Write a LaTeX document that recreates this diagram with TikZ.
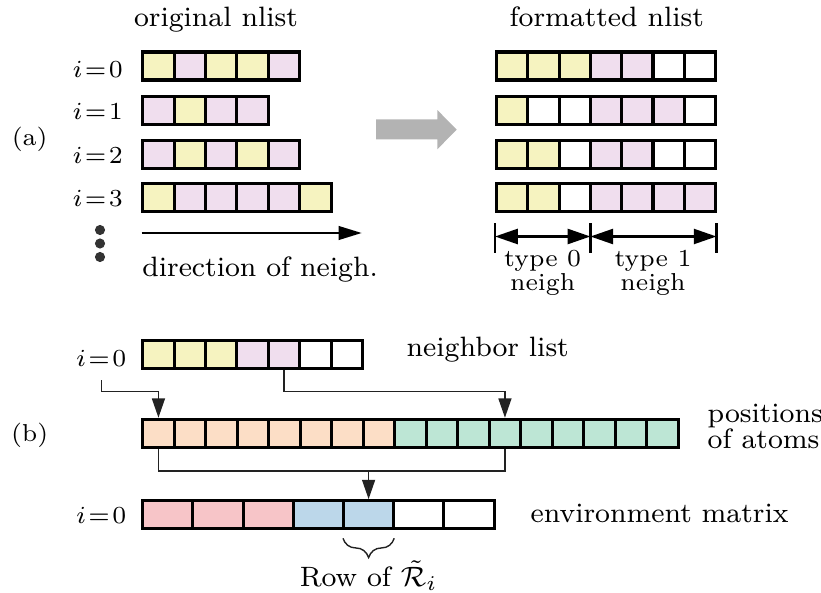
\documentclass[tikz,border=0pt]{standalone}
\usetikzlibrary{arrows.meta,decorations.pathreplacing,calc}
\definecolor{cY}{HTML}{F6F3C0}
\definecolor{cP}{HTML}{F0DEEE}
\definecolor{cW}{HTML}{FFFFFF}
\definecolor{cO}{HTML}{FCDEC6}
\definecolor{cG}{HTML}{BDE6D5}
\definecolor{cR}{HTML}{F7C5C8}
\definecolor{cB}{HTML}{BCD7EA}
\definecolor{garrowc}{HTML}{B3B3B3}
\definecolor{conncol}{HTML}{222222}
\newcommand\cellrowX[6]{%
  \foreach \c [count=\k from 0] in {#6}
    \node[cell,fill=c\c,minimum width=#5] (#1\k) at ({#2+(\k+0.5)*#3},#4) {};
}
\tikzset{
  cell/.style={draw=black,line width=0.9pt,minimum height=8pt,inner sep=0pt},
  txt/.style={font=\fontsize{8}{9.6}\selectfont,inner sep=0pt},
  lab/.style={font=\fontsize{7}{8.4}\selectfont,inner sep=0pt},
  smalltxt/.style={font=\fontsize{7}{8.4}\selectfont,inner sep=0pt},
  conn/.style={draw=conncol,line width=0.4pt},
  ctip/.style={-{Triangle[length=5.5pt,width=3.7pt]}},
  dimline/.style={draw=black,line width=0.65pt},
  dot/.style={circle,fill=black!80,minimum size=2.9pt,inner sep=0pt},
}
\begin{document}
\begin{tikzpicture}[x=0.2857pt,y=-0.2857pt]
\useasboundingbox (0,0) rectangle (821,593);

% ---------- (a) ----------
\node[lab,anchor=base] (ta) at (29.7,145) {(a)};
\node[txt,anchor=base] (tor) at (216,27) {original nlist};
\node[txt,anchor=base] (tfm) at (606.7,27) {formatted nlist};

\cellrowX{oa}{142.7}{31.4}{66}{8.97pt}{Y,P,Y,Y,P}
\cellrowX{ob}{142.7}{31.4}{110.2}{8.97pt}{P,Y,P,P}
\cellrowX{oc}{142.7}{31.4}{154.7}{8.97pt}{P,Y,P,Y,P}
\cellrowX{od}{142.7}{31.4}{197.5}{8.97pt}{Y,P,P,P,P,Y}

\node[lab,anchor=base east] (la0) at (123.5,77.5) {$i\mkern1.5mu{=}\mkern1.5mu0$};
\node[lab,anchor=base east] (la1) at (123.5,119.5) {$i\mkern1.5mu{=}\mkern1.5mu1$};
\node[lab,anchor=base east] (la2) at (123.5,164) {$i\mkern1.5mu{=}\mkern1.5mu2$};
\node[lab,anchor=base east] (la3) at (123.5,206) {$i\mkern1.5mu{=}\mkern1.5mu3$};

\node[dot] (dot1) at (100,230) {};
\node[dot] (dot2) at (100,243.5) {};
\node[dot] (dot3) at (100,257) {};

\coordinate (dirA) at (141.7,233);
\coordinate (dirB) at (361.7,233);
\draw[line width=0.6pt,-{Triangle[length=6.6pt,width=3.9pt]}] (dirA) -- (dirB);
\node[txt,anchor=base west] (tdir) at (141.7,276.5) {direction of neigh.};

\fill[garrowc] (376,119.3) -- (437.3,119.3) -- (437.3,110) -- (456.7,129.6)
  -- (437.3,149.3) -- (437.3,139.3) -- (376,139.3) -- cycle;

\cellrowX{fa}{496.5}{31.3}{66}{8.94pt}{Y,Y,Y,P,P,W,W}
\cellrowX{fb}{496.5}{31.3}{110.2}{8.94pt}{Y,W,W,P,P,P,W}
\cellrowX{fc}{496.5}{31.3}{154.7}{8.94pt}{Y,Y,W,P,P,W,W}
\cellrowX{fd}{496.5}{31.3}{197.5}{8.94pt}{Y,Y,W,P,P,P,P}

\coordinate (bar0t) at (495,223);   \coordinate (bar0b) at (495,253);
\coordinate (bar1t) at (590.4,223); \coordinate (bar1b) at (590.4,253);
\coordinate (bar2t) at (716.5,223); \coordinate (bar2b) at (716.5,253);
\draw[dimline] (bar0t) -- (bar0b);
\draw[dimline] (bar1t) -- (bar1b);
\draw[dimline] (bar2t) -- (bar2b);
\draw[dimline,{Triangle[length=6.5pt,width=4.3pt]}-{Triangle[length=6.5pt,width=4.3pt]}]
  ($(bar0t)!0.45!(bar0b)$) -- ($(bar1t)!0.45!(bar1b)$);
\draw[dimline,{Triangle[length=6.5pt,width=4.3pt]}-{Triangle[length=6.5pt,width=4.3pt]}]
  ($(bar1t)!0.45!(bar1b)$) -- ($(bar2t)!0.45!(bar2b)$);
\node[smalltxt,anchor=base] (ty0a) at (542.7,267) {type 0};
\node[smalltxt,anchor=base] (ty0b) at (542.7,290) {neigh};
\node[smalltxt,anchor=base] (ty1a) at (653,267) {type 1};
\node[smalltxt,anchor=base] (ty1b) at (653,290) {neigh};

% ---------- (b) ----------
\node[lab,anchor=base] (tb) at (29.7,441) {(b)};

\cellrowX{nl}{142.7}{31.4}{354.2}{8.97pt}{Y,Y,Y,P,P,W,W}
\node[lab,anchor=base east] (lnl) at (127,366.7) {$i\mkern1.5mu{=}\mkern1.5mu0$};
\node[txt,anchor=base west] (tnl) at (406,356.7) {neighbor list};

\cellrowX{pos}{142.7}{31.5}{433.3}{9pt}{O,O,O,O,O,O,O,O,G,G,G,G,G,G,G,G,G}
\node[txt,anchor=base west] (tpos1) at (707,422) {positions};
\node[txt,anchor=base west] (tpos2) at (707,448) {of atoms};

\cellrowX{env}{142.7}{50.2}{514.7}{14.34pt}{R,R,R,B,B,W,W}
\node[lab,anchor=base east] (lenv) at (127,523.3) {$i\mkern1.5mu{=}\mkern1.5mu0$};
\node[txt,anchor=base west] (tenv) at (530,522) {environment matrix};

\coordinate (bend1) at (0,391.7);
\coordinate (bend2) at (0,471);
\draw[conn,ctip] ([yshift=-3.7pt]lnl.south) |- (pos0.north |- bend1) -- (pos0.north);
\draw[conn,ctip] (nl4.south) |- (pos11.north |- bend1) -- (pos11.north);
\draw[conn] (pos0.south) |- (pos11.south |- bend2) -- (pos11.south);
\draw[conn,ctip] (env4.north |- bend2) -- (env4.north);

\draw[conn,decorate,decoration={brace,mirror,amplitude=5.5pt}]
  ([xshift=0.3pt,yshift=-2.3pt]env4.south west) -- ([xshift=-0.3pt,yshift=-2.3pt]env4.south east);
\node[txt,anchor=base] (trow) at (368.6,586.7) {Row of $\tilde{\mathcal{R}}_i$};
\end{tikzpicture}
\end{document}
